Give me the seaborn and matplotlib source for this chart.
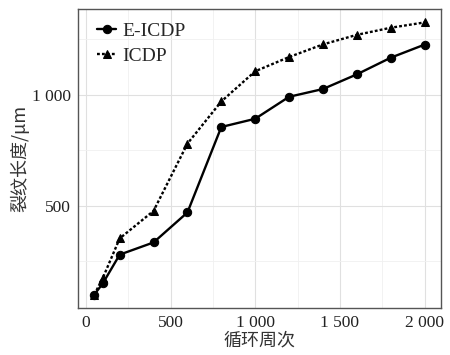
import pandas as pd
import seaborn as sns
import matplotlib.pyplot as plt
from matplotlib.ticker import FixedLocator, FuncFormatter

cycles = [50, 100, 200, 400, 600, 800, 1000, 1200, 1400, 1600, 1800, 2000]
e_icdp = [100, 150, 280, 335, 470, 855, 892, 991, 1026, 1092, 1167, 1226]
icdp = [100, 174, 353, 477, 780, 970, 1106, 1170, 1227, 1270, 1302, 1326]
series = ["E-ICDP", "ICDP"]

df = pd.concat([
    pd.DataFrame({"cycle": cycles, "length": e_icdp, "method": series[0]}),
    pd.DataFrame({"cycle": cycles, "length": icdp, "method": series[1]}),
])

sns.set_style("white")
plt.rcParams['font.family'] = ['Liberation Serif', 'Noto Sans CJK SC']

fig = plt.figure(figsize=(4.5, 3.55), dpi=100)
ax = fig.add_axes([0.173, 0.132, 0.807, 0.843])

sns.lineplot(data=df, x="cycle", y="length", style="method", color="black",
             markers={"E-ICDP": "o", "ICDP": "^"},
             dashes={"E-ICDP": "", "ICDP": (1.2, 0.9)},
             markersize=6, linewidth=1.7, markeredgecolor="black", ax=ax)

ax.set_xlim(-47, 2097)
ax.set_ylim(39, 1387)
ax.xaxis.set_major_locator(FixedLocator([0, 500, 1000, 1500, 2000]))
ax.yaxis.set_major_locator(FixedLocator([500, 1000]))
ax.xaxis.set_minor_locator(FixedLocator([250, 750, 1250, 1750]))
ax.yaxis.set_minor_locator(FixedLocator([250, 750, 1250]))
fmt = FuncFormatter(lambda v, p: f"{int(v):,}".replace(",", " ") if v >= 1000 else f"{int(v)}")
ax.xaxis.set_major_formatter(fmt)
ax.yaxis.set_major_formatter(fmt)

ax.grid(which="major", color="#e0e0e0", linewidth=0.8)
ax.grid(which="minor", color="#f0f0f0", linewidth=0.6)
ax.set_axisbelow(True)
for s in ax.spines.values():
    s.set_color("#555555")
    s.set_linewidth(1.0)

ax.tick_params(which="major", direction="out", length=3, width=1, color="#333333",
               labelsize=12.5, labelcolor="#222222", pad=2)
ax.tick_params(which="minor", length=0)

ax.set_xlabel("循环周次", fontsize=13, color="#333333", labelpad=0,
              family=['Noto Sans CJK SC'])
ax.set_ylabel("裂纹长度/μm", fontsize=13, color="#333333", labelpad=2,
              family=['Noto Sans CJK SC'])

leg = ax.legend(title=None, loc="upper left", frameon=False, fontsize=14,
                handlelength=1.0, handletextpad=0.3, labelspacing=0.38,
                borderaxespad=0.3, bbox_to_anchor=(0.015, 1.0))

plt.savefig("out.png", dpi=100)
